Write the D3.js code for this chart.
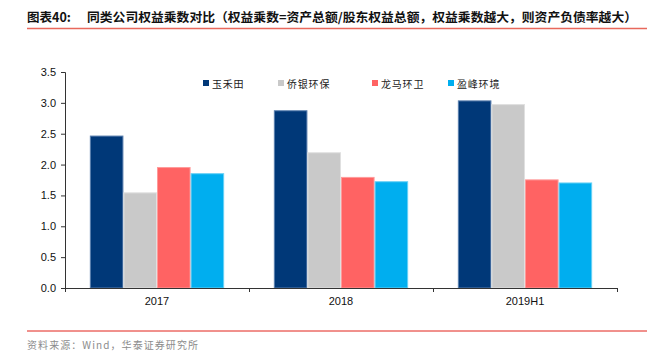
<!DOCTYPE html>
<html>
<head>
<meta charset="utf-8">
<script src="https://cdn.jsdelivr.net/npm/d3@7"></script>
<style>
  body { margin: 0; background: #fff; }
  svg { display: block; }
</style>
</head>
<body>
<div id="container"></div>
<script>
// chart data
const categories = ["2017", "2018", "2019H1"]
const seriesNames = ["玉禾田", "侨银环保", "龙马环卫", "盈峰环境"]
const yuHeTian = [2.47, 2.88, 3.04]
const qiaoYin = [1.55, 2.20, 2.98]
const longMa = [1.96, 1.80, 1.76]
const yingFeng = [1.86, 1.73, 1.71]
const yTicks = [0, 0.5, 1.0, 1.5, 2.0, 2.5, 3.0, 3.5]

const seriesValues = [yuHeTian, qiaoYin, longMa, yingFeng]
const colors = ["#003878", "#c9c9c9", "#ff6363", "#00aeef"]
const edgeColors = ["#5a7fae", "#e0e0e0", "#ff9a9a", "#66d0f5"]

const width = 647, height = 351
const margin = {top: 72, right: 30, bottom: 63, left: 65}
const innerW = width - margin.left - margin.right
const innerH = height - margin.top - margin.bottom

const svg = d3.select("#container").append("svg")
              .attr("width", width)
              .attr("height", height)

// title + red rules
svg.append("text")
   .attr("x", 27).attr("y", 22)
   .attr("font-family", "Noto Sans CJK SC")
   .attr("font-weight", "bold")
   .attr("font-size", "12.5px")
   .attr("fill", "#111")
   .text("图表40:")
svg.append("text")
   .attr("x", 87).attr("y", 22)
   .attr("font-family", "Noto Sans CJK SC")
   .attr("font-weight", "bold")
   .attr("font-size", "12.5px")
   .attr("fill", "#111")
   .attr("textLength", 550)
   .attr("lengthAdjust", "spacingAndGlyphs")
   .text("同类公司权益乘数对比（权益乘数=资产总额/股东权益总额，权益乘数越大，则资产负债率越大）")
svg.append("line")
   .attr("x1", 27).attr("x2", 647).attr("y1", 28.5).attr("y2", 28.5)
   .attr("stroke", "#e8685c").attr("stroke-width", 1.5)
svg.append("line")
   .attr("x1", 27).attr("x2", 647).attr("y1", 331).attr("y2", 331)
   .attr("stroke", "#e2231a").attr("stroke-width", 1)
svg.append("text")
   .attr("x", 27).attr("y", 349)
   .attr("font-family", "Noto Sans CJK SC")
   .attr("font-size", "10px")
   .attr("fill", "#8c8c8c")
   .attr("textLength", 171)
   .attr("lengthAdjust", "spacing")
   .text("资料来源：Wind，华泰证券研究所")

const chart = svg.append("g")
                 .attr("transform", `translate(${margin.left}, ${margin.top})`)

// scales
const xScale = d3.scaleBand()
                 .domain(categories)
                 .range([0, innerW])
                 .paddingInner(0.27)
                 .paddingOuter(0.135)
const xSub = d3.scaleBand()
               .domain(seriesNames)
               .range([0, xScale.bandwidth()])
const yScale = d3.scaleLinear()
                 .domain([0, 3.5])
                 .range([innerH, 0])

// bars
seriesNames.forEach((name, i) => {
    chart.selectAll(".bar-" + i)
         .data(categories)
         .join("rect")
         .attr("class", "bar-" + i)
         .attr("x", c => xScale(c) + xSub(name) + 0.5)
         .attr("y", (c, j) => yScale(seriesValues[i][j]) + 0.5)
         .attr("width", xSub.bandwidth() - 1)
         .attr("height", (c, j) => innerH - yScale(seriesValues[i][j]) - 0.5)
         .attr("fill", colors[i])
         .attr("stroke", edgeColors[i])
         .attr("stroke-width", 1)
})

// axes
const yAxis = d3.axisLeft(yScale)
                .tickValues(yTicks)
                .tickFormat(d3.format(".1f"))
                .tickSize(4)
                .tickPadding(5)
chart.append("g")
     .call(yAxis)
     .call(g => g.select(".domain").attr("stroke", "#333"))
     .call(g => g.selectAll("line").attr("stroke", "#333"))
     .call(g => g.selectAll("text")
                 .attr("font-family", "Liberation Sans, Arial, sans-serif")
                 .attr("font-size", "11px")
                 .attr("fill", "#111"))

const xAxis = d3.axisBottom(d3.scaleLinear().domain([0, 3]).range([0, innerW]))
                .tickValues([0, 1, 2, 3])
                .tickFormat("")
                .tickSize(4)
                .tickSizeOuter(0)
chart.append("g")
     .attr("transform", `translate(0, ${innerH})`)
     .call(xAxis)
     .call(g => g.select(".domain").attr("stroke", "#333"))
     .call(g => g.selectAll("line").attr("stroke", "#333"))

chart.selectAll(".cat-label")
     .data(categories)
     .join("text")
     .attr("class", "cat-label")
     .attr("x", c => xScale(c) + xScale.bandwidth() / 2)
     .attr("y", innerH + 17)
     .attr("text-anchor", "middle")
     .attr("font-family", "Liberation Sans, Arial, sans-serif")
     .attr("font-size", "11px")
     .attr("fill", "#111")
     .text(c => c)

// legend
const legendX = [203, 278, 372, 448]
const legend = svg.selectAll(".legend")
                  .data(seriesNames)
                  .join("g")
                  .attr("class", "legend")
                  .attr("transform", (d, i) => `translate(${legendX[i]}, 83)`)
legend.append("rect")
      .attr("x", 0).attr("y", -3)
      .attr("width", 6).attr("height", 6)
      .attr("fill", (d, i) => colors[i])
legend.append("text")
      .attr("x", 9).attr("y", 0)
      .attr("dominant-baseline", "central")
      .attr("font-family", "Noto Sans CJK SC")
      .attr("font-size", "10px")
      .attr("letter-spacing", "0.8px")
      .attr("fill", "#222")
      .text(d => d)
</script>
</body>
</html>
